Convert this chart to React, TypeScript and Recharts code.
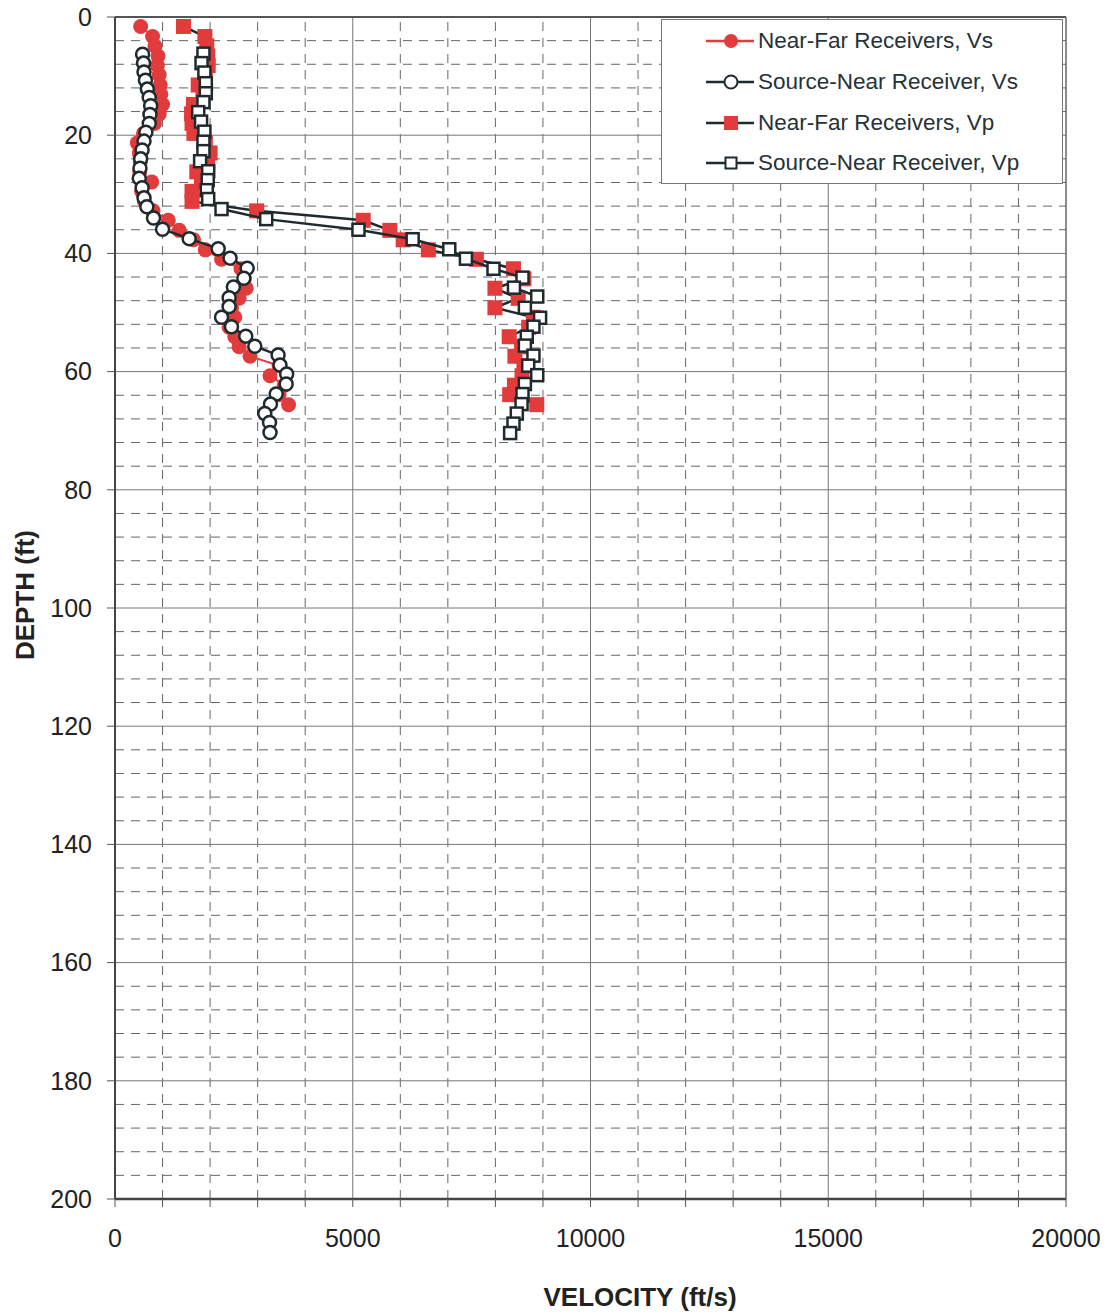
import React from "react";
import { ScatterChart, Scatter, XAxis, YAxis, ReferenceLine } from "recharts";

const RED = "#e23b3b";
const DARK = "#1f2a2e";
const FONT = "'Liberation Sans', Arial, sans-serif";

// depth (ft) and velocity (ft/s)
const nearFarVsDepth = [1.6, 3.3, 4.9, 6.6, 8.2, 9.8, 11.5, 13.1, 14.8, 16.4, 18.0, 19.7, 21.3, 23.0, 24.6, 26.2, 27.9, 29.5, 31.2, 32.8, 34.4, 36.1, 37.7, 39.4, 41.0, 42.6, 44.3, 45.9, 47.6, 49.2, 50.8, 52.5, 54.1, 55.8, 57.4, 59.0, 60.7, 62.3, 63.9, 65.6];
const nearFarVs = [540, 790, 840, 905, 890, 930, 950, 965, 1000, 930, 830, 600, 470, 510, 530, 520, 770, 560, 620, 800, 1120, 1350, 1650, 1900, 2240, 2650, 2720, 2760, 2610, 2450, 2520, 2400, 2520, 2610, 2840, 3450, 3260, 3560, 3450, 3650];

const sourceNearVsDepth = [6.3, 7.8, 9.3, 10.7, 12.2, 13.6, 15.0, 16.5, 18.0, 19.5, 21.0, 22.5, 24.0, 25.6, 27.3, 28.9, 30.6, 32.1, 34.0, 35.9, 37.5, 39.2, 40.8, 42.5, 44.2, 45.7, 47.5, 49.0, 50.8, 52.4, 54.0, 55.7, 57.2, 58.9, 60.4, 62.1, 63.8, 65.5, 67.1, 68.6, 70.3];
const sourceNearVs = [580, 600, 610, 640, 680, 720, 750, 735, 720, 650, 610, 570, 540, 525, 510, 570, 610, 670, 810, 1000, 1560, 2170, 2420, 2780, 2710, 2490, 2400, 2400, 2240, 2450, 2750, 2940, 3430, 3470, 3610, 3600, 3390, 3270, 3150, 3250, 3260];

const nearFarVpDepth = [1.6, 3.3, 4.9, 6.6, 8.2, 9.8, 11.5, 13.1, 14.8, 16.4, 18.0, 19.7, 21.3, 23.0, 24.6, 26.2, 27.9, 29.5, 31.2, 32.8, 34.4, 36.1, 37.7, 39.4, 41.0, 42.6, 44.3, 45.9, 47.6, 49.2, 50.8, 52.5, 54.1, 55.8, 57.4, 59.0, 60.7, 62.3, 63.9, 65.6];
const nearFarVp = [1440, 1890, 1930, 1950, 1960, 1900, 1750, 1850, 1650, 1610, 1620, 1660, 1900, 2000, 1950, 1720, 1820, 1620, 1620, 2980, 5220, 5780, 6060, 6590, 7600, 8380, 8600, 7990, 8480, 7990, 8800, 8700, 8290, 8550, 8410, 8600, 8560, 8400, 8300, 8870];

const sourceNearVpDepth = [6.2, 7.8, 9.4, 11.2, 12.9, 14.4, 16.1, 17.7, 19.4, 21.1, 22.7, 24.4, 26.1, 27.6, 29.3, 30.8, 32.5, 34.2, 36.0, 37.6, 39.3, 40.9, 42.6, 44.1, 45.8, 47.3, 49.2, 50.9, 52.4, 54.1, 55.6, 57.3, 59.0, 60.6, 62.1, 63.8, 65.5, 67.1, 68.8, 70.4];
const sourceNearVp = [1860, 1820, 1880, 1910, 1910, 1860, 1750, 1810, 1880, 1860, 1860, 1790, 1960, 1950, 1930, 1960, 2240, 3180, 5120, 6260, 7030, 7380, 7960, 8570, 8390, 8880, 8620, 8940, 8800, 8660, 8620, 8800, 8690, 8880, 8620, 8570, 8550, 8450, 8380, 8310];

const xTicks = [0, 1000, 2000, 3000, 4000, 5000, 6000, 7000, 8000, 9000, 10000, 11000, 12000, 13000, 14000, 15000, 16000, 17000, 18000, 19000, 20000];
const yTicks = [0, 20, 40, 60, 80, 100, 120, 140, 160, 180, 200];
const yMinor = [4, 8, 12, 16, 24, 28, 32, 36, 44, 48, 52, 56, 64, 68, 72, 76, 84, 88, 92, 96, 104, 108, 112, 116, 124, 128, 132, 136, 144, 148, 152, 156, 164, 168, 172, 176, 184, 188, 192, 196];

const toPoints = (depths: number[], vels: number[]) => depths.map((d, i) => ({ depth: d, v: vels[i] }));

const RedDot = (p: any) => <circle cx={p.cx} cy={p.cy} r={7.5} fill={RED} />;
const OpenDot = (p: any) => <circle cx={p.cx} cy={p.cy} r={6.5} fill="#fff" stroke={DARK} strokeWidth={2.5} />;
const RedSquare = (p: any) => <rect x={p.cx - 7.5} y={p.cy - 7.5} width={15} height={15} fill={RED} />;
const OpenSquare = (p: any) => <rect x={p.cx - 6} y={p.cy - 6} width={12} height={12} fill="#fff" stroke={DARK} strokeWidth={2.5} />;

const legendItems = [
  { label: "Near-Far Receivers, Vs", line: RED, mark: <circle cx={25} cy={11} r={7} fill={RED} /> },
  { label: "Source-Near Receiver, Vs", line: DARK, mark: <circle cx={25} cy={11} r={6.5} fill="#fff" stroke={DARK} strokeWidth={2} /> },
  { label: "Near-Far Receivers, Vp", line: DARK, mark: <rect x={18} y={4} width={14} height={14} fill={RED} /> },
  { label: "Source-Near Receiver, Vp", line: DARK, mark: <rect x={19.5} y={5.5} width={11} height={11} fill="#fff" stroke={DARK} strokeWidth={2} /> },
];

export default function App() {
  return (
    <div style={{ position: "relative", width: 1111, height: 1314, margin: "-8px 0 0 -8px", fontFamily: FONT, background: "#fff" }}>
      <ScatterChart width={1111} height={1314} margin={{ top: 17, right: 45, bottom: 0, left: 0 }}>
        {xTicks.slice(1, -1).map((t) => (
          <ReferenceLine key={"x" + t} x={t} stroke={t % 5000 === 0 ? "#777" : "#666"} strokeWidth={1}
            strokeDasharray={t % 5000 === 0 ? undefined : "9 7"} />
        ))}
        {yMinor.map((t) => (
          <ReferenceLine key={"ym" + t} y={t} stroke="#666" strokeWidth={1} strokeDasharray="9 7" />
        ))}
        {yTicks.slice(1, -1).map((t) => (
          <ReferenceLine key={"y" + t} y={t} stroke="#777" strokeWidth={1} />
        ))}
        <ReferenceLine y={0} stroke="#555" strokeWidth={2} />
        <ReferenceLine x={20000} stroke="#666" strokeWidth={1.5} />
        <XAxis type="number" dataKey="v" domain={[0, 20000]} ticks={xTicks} interval={0} height={115}
          tickFormatter={(t: number) => (t % 5000 === 0 ? String(t) : "")}
          tick={{ fontSize: 25, fill: "#222", fontFamily: FONT }} tickSize={8} tickMargin={22}
          axisLine={{ stroke: "#444", strokeWidth: 2.5 }} tickLine={{ stroke: "#555" }} />
        <YAxis type="number" dataKey="depth" domain={[0, 200]} reversed ticks={yTicks} interval={0} width={115}
          tick={{ fontSize: 25, fill: "#222", fontFamily: FONT }} tickSize={8} tickMargin={15}
          axisLine={{ stroke: "#444", strokeWidth: 2 }} tickLine={{ stroke: "#555" }} />
        <Scatter name="Near-Far Receivers, Vs" data={toPoints(nearFarVsDepth, nearFarVs)} shape={RedDot}
          line={{ stroke: RED, strokeWidth: 2 }} lineType="joint" isAnimationActive={false} />
        <Scatter name="Source-Near Receiver, Vs" data={toPoints(sourceNearVsDepth, sourceNearVs)} shape={OpenDot}
          line={{ stroke: DARK, strokeWidth: 2.5 }} lineType="joint" isAnimationActive={false} />
        <Scatter name="Near-Far Receivers, Vp" data={toPoints(nearFarVpDepth, nearFarVp)} shape={RedSquare}
          line={{ stroke: DARK, strokeWidth: 2.5 }} lineType="joint" isAnimationActive={false} />
        <Scatter name="Source-Near Receiver, Vp" data={toPoints(sourceNearVpDepth, sourceNearVp)} shape={OpenSquare}
          line={{ stroke: DARK, strokeWidth: 2.5 }} lineType="joint" isAnimationActive={false} />
      </ScatterChart>

      <div style={{ position: "absolute", left: 661, top: 19, width: 402, height: 165, background: "#fff",
        border: "1px solid #777", boxSizing: "border-box", paddingTop: 1 }}>
        {legendItems.map((it) => (
          <div key={it.label} style={{ display: "flex", alignItems: "center", height: 40.7, paddingLeft: 44 }}>
            <svg width={50} height={22} style={{ flex: "none" }}>
              <line x1={0} y1={11} x2={48} y2={11} stroke={it.line} strokeWidth={2.5} />
              {it.mark}
            </svg>
            <span style={{ fontSize: 22.5, color: "#263238", marginLeft: 2, whiteSpace: "nowrap" }}>{it.label}</span>
          </div>
        ))}
      </div>

      <div style={{ position: "absolute", left: 440, top: 1282, width: 400, lineHeight: "30px", textAlign: "center",
        fontSize: 26, fontWeight: "bold", color: "#222" }}>VELOCITY (ft/s)</div>
      <div style={{ position: "absolute", left: -75, top: 580, width: 200, height: 30, lineHeight: "30px",
        textAlign: "center", fontSize: 26, fontWeight: "bold", color: "#222", transform: "rotate(-90deg)" }}>DEPTH (ft)</div>
    </div>
  );
}
